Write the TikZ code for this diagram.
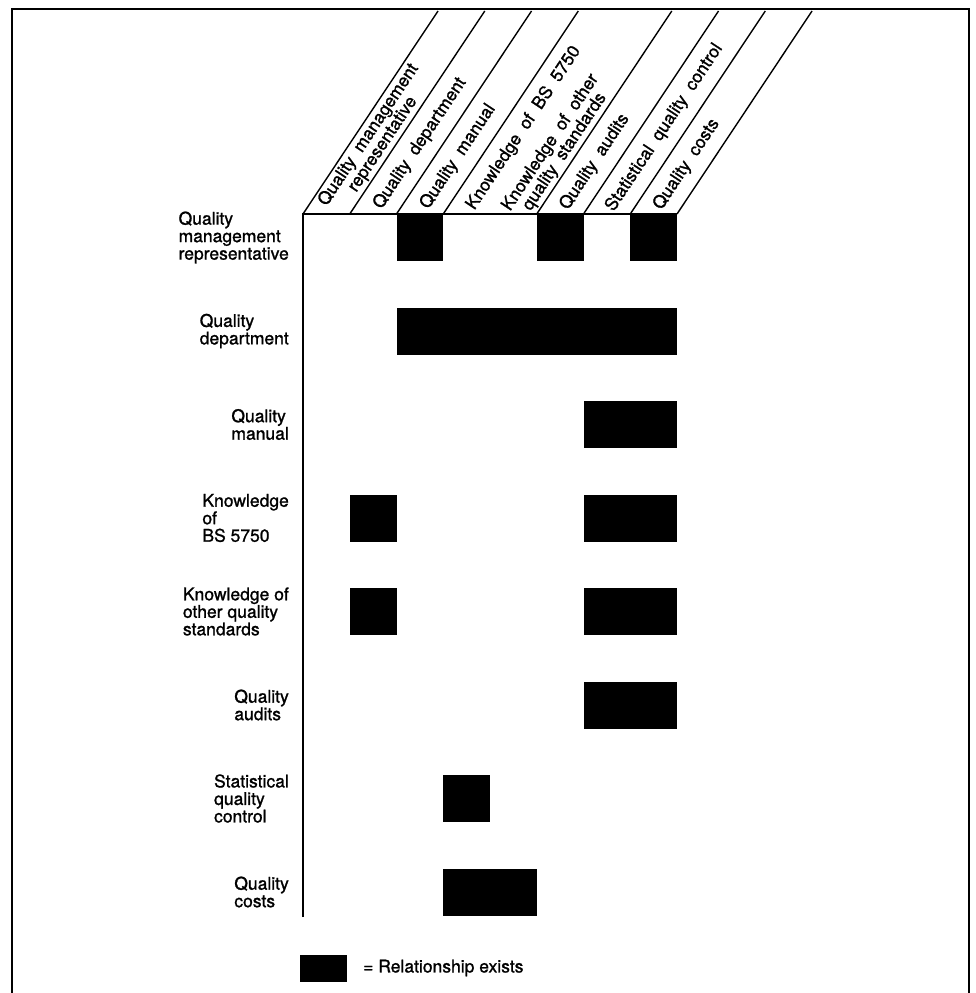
\documentclass[tikz,border=0pt]{standalone}
\usepackage{fontspec}
\setmainfont{TeX Gyre Heros}[FakeBold=1.2]
\usetikzlibrary{calc}
\newcommand{\headFont}{\fontsize{17.5}{17}\selectfont\spaceskip=0.55em\relax}

\begin{document}
\begin{tikzpicture}[x = 1pt, y = -1pt, font = \fontsize{17.5}{17.5}\selectfont]
	\def\gridLeft{303};
	\def\gridTop{214};
	\def\colW{46.75};
	\def\rowH{93.5};
	\def\boxH{47};
	\def\headTop{11};
	\def\headShift{135};

	\newcommand{\drawRelation}[3]
	{
		\fill (\gridLeft+\colW*#2-\colW, \gridTop+\rowH*#1-\rowH) rectangle (\gridLeft+\colW*#3, \gridTop+\rowH*#1-\rowH+\boxH)
	}

	\useasboundingbox (0,0) rectangle (975,993);
	\draw [line width = 2] (12,993) -- (12,9) -- (969,9) -- (969,993);

	\begin{scope}[line width = 1.4]
		\draw (\gridLeft,917) -- (\gridLeft,\gridTop) -- (\gridLeft+8*\colW,\gridTop);
		\foreach \k in {0,1,2,3,5,6,7,8}
			\draw (\gridLeft+\k*\colW,\gridTop) -- ++(\headShift,\headTop-\gridTop);
	\end{scope}

	\begin{scope}[font = \headFont]
		\foreach \b/\d/\txt in {0/6/{Quality management\\representative}, 1/8/{Quality department}, 2/8/{Quality manual}, 3/7/{Knowledge of BS 5750}, 4/0/{Knowledge of other\\quality standards}, 5/7/{Quality audits}, 6/5/{Statistical quality control}, 7/7/{Quality costs}}
			\node [rotate = 56.38, anchor = west, align = center, inner sep = 0] (col\b) at (\gridLeft+\b*\colW+0.5*\colW+0.5538*\d, \gridTop-0.8327*\d) {\txt};
	\end{scope}

	\begin{scope}
		\foreach \r/\txt in {1/{Quality\\management\\representative}, 2/{Quality\\department}, 3/{Quality\\manual}, 4/{Knowledge\\of\\BS 5750}, 5/{Knowledge of\\other quality\\standards}, 6/{Quality\\audits}, 7/{Statistical\\quality\\control}, 8/{Quality\\costs}}
			\node [anchor = east, align = left, inner sep = 0] (row\r) at (289, \gridTop+\rowH*\r-\rowH+\boxH/2) {\txt};
	\end{scope}

	\begin{scope}
		\drawRelation{1}{3}{3};
		\drawRelation{1}{6}{6};
		\drawRelation{1}{8}{8};
		\drawRelation{2}{3}{8};
		\drawRelation{3}{7}{8};
		\drawRelation{4}{2}{2};
		\drawRelation{4}{7}{8};
		\drawRelation{5}{2}{2};
		\drawRelation{5}{7}{8};
		\drawRelation{6}{7}{8};
		\drawRelation{7}{4}{4};
		\drawRelation{8}{4}{5};
	\end{scope}

	\fill (300,955) rectangle (347,982);
	\node [anchor = west, inner sep = 0] (legend) at (363,968) {= Relationship exists};
\end{tikzpicture}
\end{document}
